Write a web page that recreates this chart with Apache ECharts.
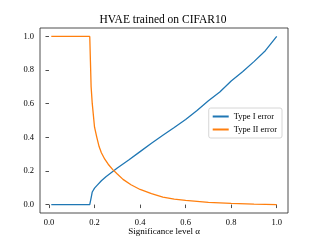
<!DOCTYPE html>
<html><head><meta charset="utf-8">
<script src="https://cdn.jsdelivr.net/npm/echarts@6/dist/echarts.min.js"></script>
<style>html,body{margin:0;padding:0;background:#fff}#c{width:320px;height:240px}</style>
</head><body><div id="c"></div>
<script>
var titleText = "HVAE trained on CIFAR10";
var xLabel = "Significance level α";
var seriesNames = ["Type I error", "Type II error"];
var xTicks = [0, 0.2, 0.4, 0.6, 0.8, 1.0];
var yTicks = [0, 0.2, 0.4, 0.6, 0.8, 1.0];

var alpha1 = [0.01, 0.05, 0.10, 0.15, 0.179, 0.185, 0.19, 0.20, 0.21, 0.23, 0.25, 0.30, 0.35, 0.40, 0.45, 0.50, 0.55, 0.60, 0.65, 0.70, 0.75, 0.80, 0.85, 0.90, 0.95, 1.00];
var typeI  = [0, 0, 0, 0, 0, 0.04, 0.075, 0.098, 0.113, 0.142, 0.166, 0.218, 0.265, 0.315, 0.365, 0.412, 0.458, 0.506, 0.56, 0.617, 0.67, 0.735, 0.79, 0.85, 0.915, 1.0];

var alpha2 = [0.01, 0.05, 0.10, 0.15, 0.179, 0.182, 0.185, 0.19, 0.20, 0.21, 0.22, 0.23, 0.245, 0.26, 0.28, 0.30, 0.325, 0.36, 0.40, 0.45, 0.50, 0.55, 0.60, 0.70, 0.80, 0.90, 1.00];
var typeII = [1, 1, 1, 1, 1, 0.85, 0.7, 0.6, 0.46, 0.40, 0.345, 0.308, 0.27, 0.24, 0.208, 0.182, 0.15, 0.118, 0.09, 0.065, 0.045, 0.033, 0.025, 0.013, 0.007, 0.003, 0.0];

function pairs(xs, ys){ return xs.map(function(x,i){return [x, ys[i]];}); }
var font = "Liberation Serif";
var chart = echarts.init(document.getElementById('c'), null, {renderer:'canvas'});
chart.setOption({
  animation:false,
  backgroundColor:'#fff',
  title:{text:titleText, left:163, top:14, textAlign:'center', padding:0,
    textStyle:{fontFamily:font, fontSize:11.5, fontWeight:'normal', color:'#000'}},
  grid:{left:40, right:32, top:28, bottom:27, show:true, borderColor:'#222', borderWidth:0.8,
    containLabel:false, outerBoundsMode:'none'},
  legend:{orient:'vertical', right:38, top:108, data:seriesNames,
    backgroundColor:'#fff', borderColor:'#ccc', borderWidth:0.8, borderRadius:2,
    padding:[4,5,4,4], itemGap:4, itemWidth:16, itemHeight:2, icon:'rect',
    textStyle:{fontFamily:font, fontSize:8.5, color:'#000'}},
  xAxis:{type:'value', min:-0.0395, max:1.0495,
    name:xLabel, nameLocation:'middle', nameGap:14, nameMoveOverlap:false,
    nameTextStyle:{fontFamily:font, fontSize:9, color:'#000', verticalAlign:'top'},
    axisLine:{show:false}, splitLine:{show:false},
    axisTick:{show:true, length:3.5, lineStyle:{color:'#222', width:0.8}, customValues:xTicks},
    axisLabel:{fontFamily:font, fontSize:8.5, color:'#000', margin:5, customValues:xTicks,
      formatter:function(v){return v.toFixed(1);}}},
  yAxis:{type:'value', min:-0.05, max:1.05,
    axisLine:{show:false}, splitLine:{show:false},
    axisTick:{show:true, length:3.5, lineStyle:{color:'#222', width:0.8}, customValues:yTicks},
    axisLabel:{fontFamily:font, fontSize:8.5, color:'#000', margin:6, customValues:yTicks,
      formatter:function(v){return v.toFixed(1);}}},
  series:[
    {name:seriesNames[0], type:'line', data:pairs(alpha1, typeI), showSymbol:false, symbol:'none',
      lineStyle:{color:'#1f77b4', width:1.3}, itemStyle:{color:'#1f77b4'}},
    {name:seriesNames[1], type:'line', data:pairs(alpha2, typeII), showSymbol:false, symbol:'none',
      lineStyle:{color:'#ff7f0e', width:1.3}, itemStyle:{color:'#ff7f0e'}}
  ]
});
</script></body></html>
